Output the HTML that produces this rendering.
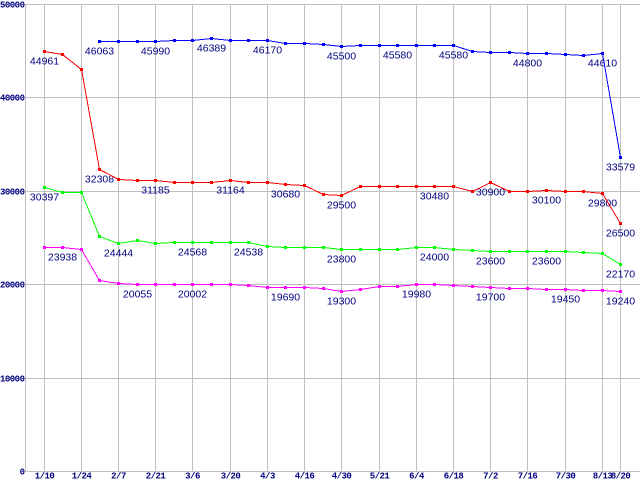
<!DOCTYPE html>
<html><head><meta charset="utf-8"><style>
html,body{margin:0;padding:0;background:#fff;}
svg{display:block;}
.g{stroke:#c0c0c0;stroke-width:1;fill:none;}
.ax{font-family:"Liberation Mono",monospace;font-weight:bold;font-size:9px;fill:#000080;letter-spacing:-0.5px;}
.lb{font-family:"Liberation Sans",sans-serif;font-size:10.5px;fill:#000080;text-anchor:middle;}
</style></head><body>
<svg width="640" height="480" viewBox="0 0 640 480" xmlns="http://www.w3.org/2000/svg" shape-rendering="crispEdges">
<rect width="640" height="480" fill="#fff"/>
<g class="g">
<path d="M25 4.5H640M25 97.5H640M25 191.5H640M25 284.5H640M25 378.5H640M25 471.5H640"/>
<path d="M25.5 4V472M44.5 4V471M81.5 4V471M118.5 4V471M155.5 4V471M192.5 4V471M230.5 4V471M267.5 4V471M304.5 4V471M341.5 4V471M379.5 4V471M416.5 4V471M453.5 4V471M490.5 4V471M527.5 4V471M565.5 4V471M602.5 4V471M620.5 4V471"/>
</g>
<g class="ax" text-anchor="end">
<text x="24.5" y="7.5">50000</text>
<text x="24.5" y="100.5">40000</text>
<text x="24.5" y="194.5">30000</text>
<text x="24.5" y="287.5">20000</text>
<text x="24.5" y="381.5">10000</text>
<text x="24.5" y="474.5">0</text>
</g>
<g class="ax" text-anchor="middle">
<text x="44.5" y="478.5">1/10</text>
<text x="81.5" y="478.5">1/24</text>
<text x="118.5" y="478.5">2/7</text>
<text x="155.5" y="478.5">2/21</text>
<text x="192.5" y="478.5">3/6</text>
<text x="230.5" y="478.5">3/20</text>
<text x="267.5" y="478.5">4/3</text>
<text x="304.5" y="478.5">4/16</text>
<text x="341.5" y="478.5">4/30</text>
<text x="379.5" y="478.5">5/21</text>
<text x="416.5" y="478.5">6/4</text>
<text x="453.5" y="478.5">6/18</text>
<text x="490.5" y="478.5">7/2</text>
<text x="527.5" y="478.5">7/16</text>
<text x="565.5" y="478.5">7/30</text>
<text x="602.5" y="478.5">8/13</text>
<text x="620.5" y="478.5">8/20</text>
</g>

<!-- labels -->
<g class="lb">
<text x="99.5" y="54.5">46063</text>
<text x="155.5" y="54.5">45990</text>
<text x="211.5" y="51.5">46389</text>
<text x="267.5" y="53.5">46170</text>
<text x="341.5" y="59.5">45500</text>
<text x="397.5" y="58.5">45580</text>
<text x="453.5" y="58.5">45580</text>
<text x="527.5" y="66.5">44800</text>
<text x="602.5" y="66.5">44610</text>
<text x="620.5" y="170.5">33579</text>

<text x="44.5" y="64.5">44961</text>
<text x="99.5" y="182.5">32308</text>
<text x="155.5" y="193.5">31185</text>
<text x="230.5" y="193.5">31164</text>
<text x="285.5" y="197.5">30680</text>
<text x="341.5" y="208.5">29500</text>
<text x="434.5" y="199.5">30480</text>
<text x="490.5" y="195.5">30900</text>
<text x="546.5" y="203.5">30100</text>
<text x="602.5" y="206.5">29800</text>
<text x="620.5" y="236.5">26500</text>

<text x="44.5" y="200.5">30397</text>
<text x="118.5" y="256.5">24444</text>
<text x="192.5" y="255.5">24568</text>
<text x="248.5" y="255.5">24538</text>
<text x="341.5" y="262.5">23800</text>
<text x="434.5" y="260.5">24000</text>
<text x="490.5" y="264.5">23600</text>
<text x="546.5" y="264.5">23600</text>
<text x="620.5" y="277.5">22170</text>

<text x="62.5" y="260.5">23938</text>
<text x="137.5" y="297.5">20055</text>
<text x="192.5" y="297.5">20002</text>
<text x="285.5" y="300.5">19690</text>
<text x="341.5" y="304.5">19300</text>
<text x="416.5" y="297.5">19980</text>
<text x="490.5" y="300.5">19700</text>
<text x="565.5" y="302.5">19450</text>
<text x="620.5" y="304.5">19240</text>
</g>

<!-- blue -->
<polyline fill="none" stroke="#0000ff" stroke-width="1" points="99.5,41.5 118.5,41.5 137.5,41.5 155.5,41.5 174.5,40.5 192.5,40.5 211.5,38.5 230.5,40.5 248.5,40.5 267.5,40.5 285.5,43.5 304.5,43.5 323.5,44.5 341.5,46.5 360.5,45.5 379.5,45.5 397.5,45.5 416.5,45.5 434.5,45.5 453.5,45.5 472.5,51.5 490.5,52.5 509.5,52.5 527.5,53.5 546.5,53.5 565.5,54.5 583.5,55.5 602.5,53.5 620.5,157.5"/>
<path fill="#0000ff" d="M98 40h3v3h-3zM117 40h3v3h-3zM136 40h3v3h-3zM154 40h3v3h-3zM173 39h3v3h-3zM191 39h3v3h-3zM210 37h3v3h-3zM229 39h3v3h-3zM247 39h3v3h-3zM266 39h3v3h-3zM284 42h3v3h-3zM303 42h3v3h-3zM322 43h3v3h-3zM340 45h3v3h-3zM359 44h3v3h-3zM378 44h3v3h-3zM396 44h3v3h-3zM415 44h3v3h-3zM433 44h3v3h-3zM452 44h3v3h-3zM471 50h3v3h-3zM489 51h3v3h-3zM508 51h3v3h-3zM526 52h3v3h-3zM545 52h3v3h-3zM564 53h3v3h-3zM582 54h3v3h-3zM601 52h3v3h-3zM619 156h3v3h-3z"/>

<!-- red -->
<polyline fill="none" stroke="#ff0000" stroke-width="1" points="44.5,51.5 62.5,54.5 81.5,69.5 99.5,169.5 118.5,179.5 137.5,180.5 155.5,180.5 174.5,182.5 192.5,182.5 211.5,182.5 230.5,180.5 248.5,182.5 267.5,182.5 285.5,184.5 304.5,185.5 323.5,194.5 341.5,195.5 360.5,186.5 379.5,186.5 397.5,186.5 416.5,186.5 434.5,186.5 453.5,186.5 472.5,191.5 490.5,182.5 509.5,191.5 527.5,191.5 546.5,190.5 565.5,191.5 583.5,191.5 602.5,193.5 620.5,223.5"/>
<path fill="#ff0000" d="M43 50h3v3h-3zM61 53h3v3h-3zM80 68h3v3h-3zM98 168h3v3h-3zM117 178h3v3h-3zM136 179h3v3h-3zM154 179h3v3h-3zM173 181h3v3h-3zM191 181h3v3h-3zM210 181h3v3h-3zM229 179h3v3h-3zM247 181h3v3h-3zM266 181h3v3h-3zM284 183h3v3h-3zM303 184h3v3h-3zM322 193h3v3h-3zM340 194h3v3h-3zM359 185h3v3h-3zM378 185h3v3h-3zM396 185h3v3h-3zM415 185h3v3h-3zM433 185h3v3h-3zM452 185h3v3h-3zM471 190h3v3h-3zM489 181h3v3h-3zM508 190h3v3h-3zM526 190h3v3h-3zM545 189h3v3h-3zM564 190h3v3h-3zM582 190h3v3h-3zM601 192h3v3h-3zM619 222h3v3h-3z"/>

<!-- green -->
<polyline fill="none" stroke="#00ff00" stroke-width="1" points="44.5,187.5 62.5,192.5 81.5,192.5 99.5,236.5 118.5,243.5 137.5,240.5 155.5,243.5 174.5,242.5 192.5,242.5 211.5,242.5 230.5,242.5 248.5,242.5 267.5,246.5 285.5,247.5 304.5,247.5 323.5,247.5 341.5,249.5 360.5,249.5 379.5,249.5 397.5,249.5 416.5,247.5 434.5,247.5 453.5,249.5 472.5,250.5 490.5,251.5 509.5,251.5 527.5,251.5 546.5,251.5 565.5,251.5 583.5,252.5 602.5,253.5 620.5,264.5"/>
<path fill="#00ff00" d="M43 186h3v3h-3zM61 191h3v3h-3zM80 191h3v3h-3zM98 235h3v3h-3zM117 242h3v3h-3zM136 239h3v3h-3zM154 242h3v3h-3zM173 241h3v3h-3zM191 241h3v3h-3zM210 241h3v3h-3zM229 241h3v3h-3zM247 241h3v3h-3zM266 245h3v3h-3zM284 246h3v3h-3zM303 246h3v3h-3zM322 246h3v3h-3zM340 248h3v3h-3zM359 248h3v3h-3zM378 248h3v3h-3zM396 248h3v3h-3zM415 246h3v3h-3zM433 246h3v3h-3zM452 248h3v3h-3zM471 249h3v3h-3zM489 250h3v3h-3zM508 250h3v3h-3zM526 250h3v3h-3zM545 250h3v3h-3zM564 250h3v3h-3zM582 251h3v3h-3zM601 252h3v3h-3zM619 263h3v3h-3z"/>

<!-- magenta -->
<polyline fill="none" stroke="#ff00ff" stroke-width="1" points="44.5,247.5 62.5,247.5 81.5,249.5 99.5,280.5 118.5,283.5 137.5,284.5 155.5,284.5 174.5,284.5 192.5,284.5 211.5,284.5 230.5,284.5 248.5,285.5 267.5,287.5 285.5,287.5 304.5,287.5 323.5,288.5 341.5,291.5 360.5,289.5 379.5,286.5 397.5,286.5 416.5,284.5 434.5,284.5 453.5,285.5 472.5,286.5 490.5,287.5 509.5,288.5 527.5,288.5 546.5,289.5 565.5,289.5 583.5,290.5 602.5,290.5 620.5,291.5"/>
<path fill="#ff00ff" d="M43 246h3v3h-3zM61 246h3v3h-3zM80 248h3v3h-3zM98 279h3v3h-3zM117 282h3v3h-3zM136 283h3v3h-3zM154 283h3v3h-3zM173 283h3v3h-3zM191 283h3v3h-3zM210 283h3v3h-3zM229 283h3v3h-3zM247 284h3v3h-3zM266 286h3v3h-3zM284 286h3v3h-3zM303 286h3v3h-3zM322 287h3v3h-3zM340 290h3v3h-3zM359 288h3v3h-3zM378 285h3v3h-3zM396 285h3v3h-3zM415 283h3v3h-3zM433 283h3v3h-3zM452 284h3v3h-3zM471 285h3v3h-3zM489 286h3v3h-3zM508 287h3v3h-3zM526 287h3v3h-3zM545 288h3v3h-3zM564 288h3v3h-3zM582 289h3v3h-3zM601 289h3v3h-3zM619 290h3v3h-3z"/>
</svg>
</body></html>
